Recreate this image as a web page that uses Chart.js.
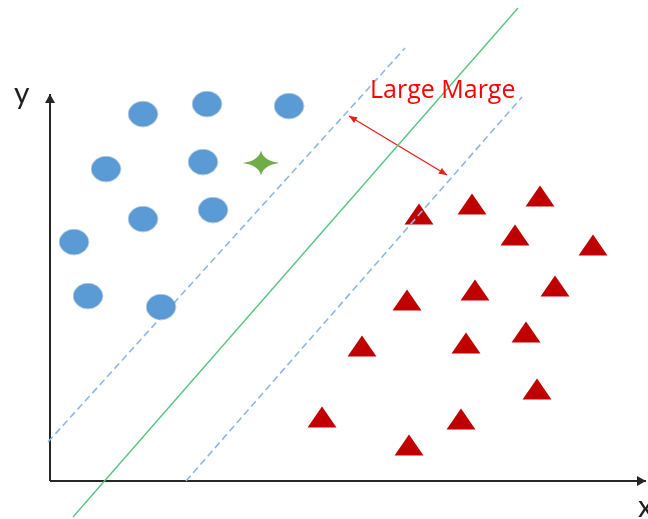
<!DOCTYPE html>
<html>
<head>
<meta charset="utf-8">
<script src="https://cdn.jsdelivr.net/npm/chart.js@4/dist/chart.umd.min.js"></script>
<style>
  html, body { margin: 0; padding: 0; background: #ffffff; }
  #wrap { width: 648px; height: 519px; }
</style>
</head>
<body>
<div id="wrap"><canvas id="c" width="648" height="519"></canvas></div>
<script>
// ---- Data (origin at the axes intersection) ----
const blueX = [93, 157, 239, 56, 153, 93, 163, 24, 38, 111];
const blueY = [367, 377, 375, 312, 319, 262, 271, 239, 185, 174];

const redX = [369, 422, 490, 465, 543, 505, 425, 357, 476, 416, 312, 487, 272, 411, 359];
const redY = [267, 277, 285, 246, 236, 195, 191, 181, 149, 138, 135, 92, 64, 62, 36];

const starX = [211];
const starY = [318];

const hyperX = [23, 468];
const hyperY = [-36, 473];

const upperMarginX = [-2, 355];
const upperMarginY = [39, 433];

const lowerMarginX = [136, 472];
const lowerMarginY = [0, 384];

const yAxisX = [0, 0];
const yAxisY = [0, 387];
const xAxisX = [0, 596];
const xAxisY = [0, 0];

const marginArrowX = [299, 397];
const marginArrowY = [365, 306];

const labelTexts = ['Large Marge', 'y', 'x'];
const labelX = [320, -36, 588];
const labelY = [383, 377, -36];

function pts(xs, ys) { return xs.map((x, i) => ({ x: x, y: ys[i] })); }

// ---- Custom marker images ----
function ellipseMarker() {
  const c = document.createElement('canvas');
  c.width = 31; c.height = 27;
  const g = c.getContext('2d');
  g.beginPath();
  g.ellipse(15.5, 13.5, 14.3, 12.3, 0, 0, Math.PI * 2);
  g.fillStyle = '#5B9BD5';
  g.fill();
  g.lineWidth = 0.9;
  g.strokeStyle = '#4F8BC4';
  g.stroke();
  return c;
}
function triangleMarker() {
  const c = document.createElement('canvas');
  c.width = 30; c.height = 22;
  const g = c.getContext('2d');
  g.beginPath();
  g.moveTo(15, 0.5);
  g.lineTo(29.5, 21.5);
  g.lineTo(0.5, 21.5);
  g.closePath();
  g.fillStyle = '#C00000';
  g.fill();
  return c;
}
function starMarker() {
  const c = document.createElement('canvas');
  c.width = 38; c.height = 26;
  const g = c.getContext('2d');
  const cx = 19, cy = 13, ax = 18.5, ay = 12.5, k = 2.2;
  g.beginPath();
  g.moveTo(cx, cy - ay);
  g.quadraticCurveTo(cx + k, cy - k, cx + ax, cy);
  g.quadraticCurveTo(cx + k, cy + k, cx, cy + ay);
  g.quadraticCurveTo(cx - k, cy + k, cx - ax, cy);
  g.quadraticCurveTo(cx - k, cy - k, cx, cy - ay);
  g.closePath();
  g.fillStyle = '#70AD47';
  g.fill();
  return c;
}

// ---- Plugins: arrowheads and text labels ----
const arrowPlugin = {
  id: 'arrowheads',
  afterDatasetsDraw(chart) {
    const ctx = chart.ctx;
    chart.data.datasets.forEach((ds, i) => {
      if (!ds.arrowEnds) return;
      const meta = chart.getDatasetMeta(i);
      const p = meta.data;
      if (p.length < 2) return;
      const heads = [];
      if (ds.arrowEnds.includes('end')) heads.push([p[p.length - 2], p[p.length - 1]]);
      if (ds.arrowEnds.includes('start')) heads.push([p[1], p[0]]);
      heads.forEach(([a, b]) => {
        const dx = b.x - a.x, dy = b.y - a.y;
        const len = Math.hypot(dx, dy);
        const ux = dx / len, uy = dy / len;
        const L = ds.arrowLen, W = ds.arrowHalfWidth;
        ctx.save();
        ctx.beginPath();
        ctx.moveTo(b.x, b.y);
        ctx.lineTo(b.x - ux * L - uy * W, b.y - uy * L + ux * W);
        ctx.lineTo(b.x - ux * L + uy * W, b.y - uy * L - ux * W);
        ctx.closePath();
        ctx.fillStyle = ds.borderColor;
        ctx.fill();
        ctx.restore();
      });
    });
  }
};

const labelPlugin = {
  id: 'labels',
  afterDatasetsDraw(chart) {
    const ctx = chart.ctx;
    const xs = chart.scales.x, ys = chart.scales.y;
    const styles = [
      { font: '25px "Open Sans", Lato, "Liberation Sans", sans-serif', color: '#FF0000' },
      { font: '30px Lato, "Liberation Sans", sans-serif', color: '#1F1F1F' },
      { font: '30px Lato, "Liberation Sans", sans-serif', color: '#1F1F1F' }
    ];
    labelTexts.forEach((t, i) => {
      ctx.save();
      ctx.font = styles[i].font;
      ctx.fillStyle = styles[i].color;
      ctx.textAlign = 'left';
      ctx.textBaseline = 'alphabetic';
      ctx.fillText(t, xs.getPixelForValue(labelX[i]), ys.getPixelForValue(labelY[i]));
      ctx.restore();
    });
  }
};

const lineDefaults = { showLine: true, pointRadius: 0, pointHoverRadius: 0, fill: false, tension: 0, clip: false };

new Chart(document.getElementById('c'), {
  type: 'scatter',
  data: {
    datasets: [
      { label: 'Class A', data: pts(blueX, blueY), pointStyle: ellipseMarker(), pointRadius: 14, order: 0, clip: false },
      { label: 'New point', data: pts(starX, starY), pointStyle: starMarker(), pointRadius: 18, order: 0, clip: false },
      Object.assign({ label: 'Upper margin', data: pts(upperMarginX, upperMarginY), borderColor: '#8DB8E6', borderWidth: 1.6, borderDash: [7, 4], order: 1 }, lineDefaults),
      Object.assign({ label: 'Lower margin', data: pts(lowerMarginX, lowerMarginY), borderColor: '#8DB8E6', borderWidth: 1.6, borderDash: [7, 4], order: 1 }, lineDefaults),
      Object.assign({ label: 'Hyperplane', data: pts(hyperX, hyperY), borderColor: '#55C682', borderWidth: 1.4, order: 1 }, lineDefaults),
      Object.assign({ label: 'Margin', data: pts(marginArrowX, marginArrowY), borderColor: '#F21B1B', borderWidth: 1.3, order: 1, arrowEnds: ['start', 'end'], arrowLen: 8, arrowHalfWidth: 3.5 }, lineDefaults),
      Object.assign({ label: 'y axis', data: pts(yAxisX, yAxisY), borderColor: '#262626', borderWidth: 2, order: 1, arrowEnds: ['end'], arrowLen: 9, arrowHalfWidth: 5 }, lineDefaults),
      Object.assign({ label: 'x axis', data: pts(xAxisX, xAxisY), borderColor: '#262626', borderWidth: 2, order: 1, arrowEnds: ['end'], arrowLen: 9, arrowHalfWidth: 5 }, lineDefaults),
      { label: 'Class B', data: pts(redX, redY), pointStyle: triangleMarker(), pointRadius: 15, order: 2, clip: false }
    ]
  },
  options: {
    responsive: false,
    animation: false,
    events: [],
    layout: { padding: 0, autoPadding: false },
    plugins: { legend: { display: false }, tooltip: { enabled: false } },
    scales: {
      x: { type: 'linear', min: -50, max: 598, display: false },
      y: { type: 'linear', min: -38, max: 481, display: false }
    }
  },
  plugins: [arrowPlugin, labelPlugin]
});
</script>
</body>
</html>
